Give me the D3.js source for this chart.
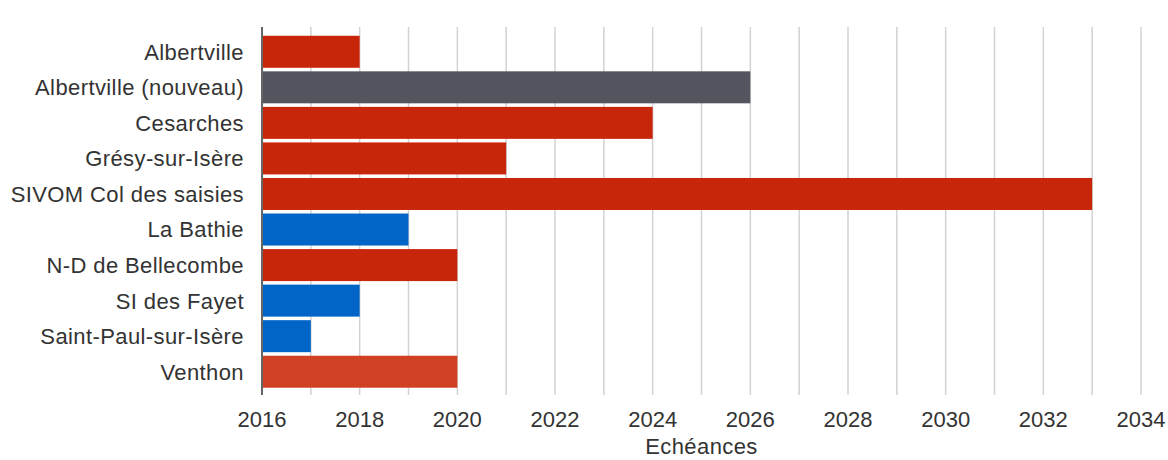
<!DOCTYPE html>
<html><head><meta charset="utf-8">
<script src="https://cdn.jsdelivr.net/npm/d3@7"></script>
<style>
html,body{margin:0;padding:0;background:#fff;}
text{font-family:"Liberation Sans",Arial,sans-serif;fill:#333;}
</style></head>
<body><svg id="chart" width="1168" height="460"></svg>
<script>
const categories = ["Albertville","Albertville (nouveau)","Cesarches","Grésy-sur-Isère","SIVOM Col des saisies","La Bathie","N-D de Bellecombe","SI des Fayet","Saint-Paul-sur-Isère","Venthon"];
const years = [2018,2026,2024,2021,2033,2019,2020,2018,2017,2020];
const barColors = ["#c8260b","#53565e","#c8260b","#c8260b","#c8260b","#0065c6","#c8260b","#0065c6","#0065c6","#d04124"];
const tickValues = [2016,2018,2020,2022,2024,2026,2028,2030,2032,2034];
const gridValues = d3.range(2016,2035);
const axisTitle = "Echéances";

const svg = d3.select("#chart");
const x = d3.scaleLinear().domain([2016,2034]).range([262,1141]);
const y = d3.scaleBand().domain(categories).range([34,389.5]).paddingInner(0.1).paddingOuter(0.05);
const gridTop = 27, gridBottom = 395;

svg.append("g").selectAll("line").data(gridValues.slice(1)).join("line")
  .attr("x1",d=>x(d)).attr("x2",d=>x(d)).attr("y1",gridTop).attr("y2",gridBottom)
  .attr("stroke","#d3d3d3").attr("stroke-width",1.5);

svg.append("g").selectAll("rect").data(categories).join("rect")
  .attr("x",x(2016)+1).attr("y",d=>y(d))
  .attr("width",(d,i)=>x(years[i])-x(2016)-1).attr("height",y.bandwidth())
  .attr("fill",(d,i)=>barColors[i]);

svg.append("line").attr("x1",x(2016)).attr("x2",x(2016)).attr("y1",gridTop).attr("y2",gridBottom)
  .attr("stroke","#333").attr("stroke-width",1.5);

svg.append("g").selectAll("text").data(categories).join("text")
  .attr("x",244).attr("y",d=>y(d)+y.bandwidth()/2).attr("dy","0.36em")
  .attr("text-anchor","end").attr("font-size",22).attr("letter-spacing",0.4).text(d=>d);

svg.append("g").selectAll("text").data(tickValues).join("text")
  .attr("x",d=>x(d)).attr("y",427).attr("text-anchor","middle").attr("font-size",22).text(d=>d);

svg.append("text").attr("x",(x(2016)+x(2034))/2).attr("y",454).attr("text-anchor","middle")
  .attr("font-size",22).attr("letter-spacing",0.4).text(axisTitle);
</script></body></html>
